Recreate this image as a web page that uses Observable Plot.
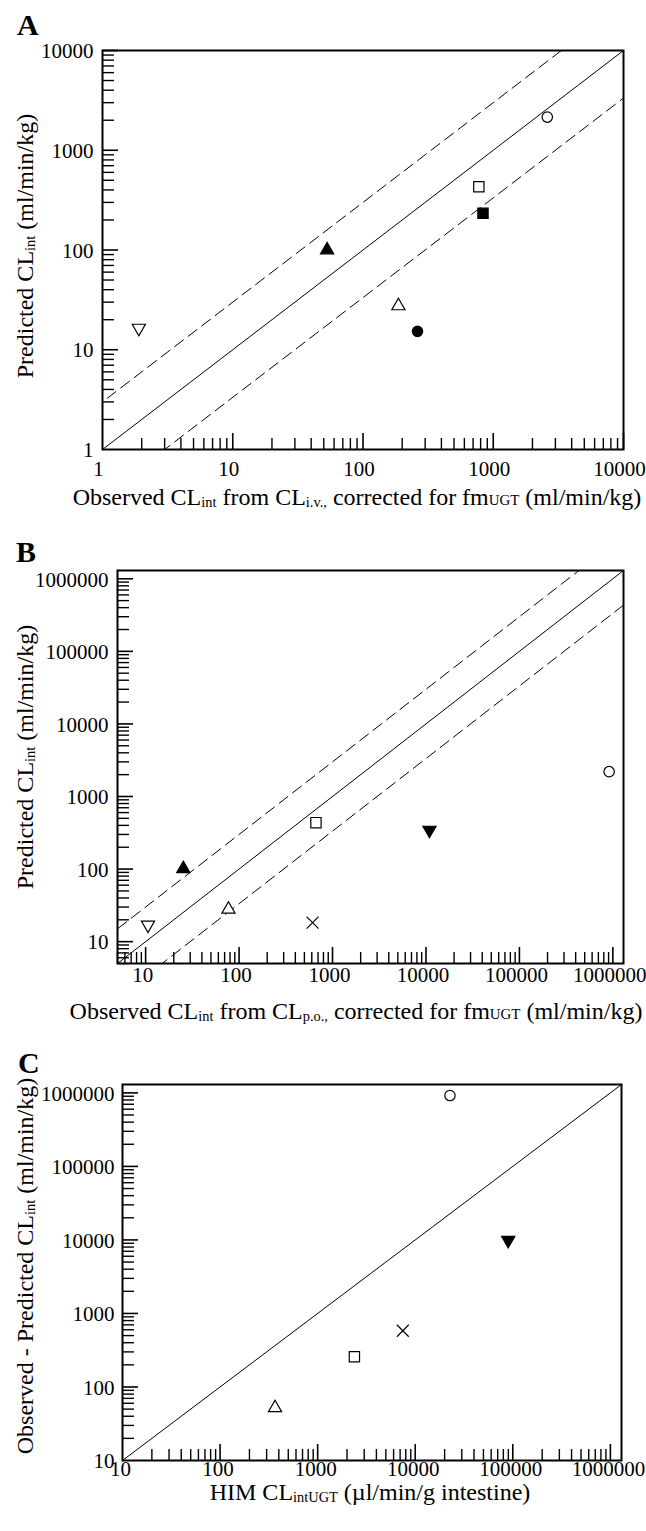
<!DOCTYPE html>
<html><head><meta charset="utf-8">
<script src="https://cdn.jsdelivr.net/npm/d3@7"></script>
<script src="https://cdn.jsdelivr.net/npm/@observablehq/plot@0.6"></script>
<style>
body{margin:0;background:#fff;}
#wrap{position:relative;width:646px;height:1531px;font-family:"Liberation Serif","Times New Roman",serif;color:#000;overflow:hidden;}
.plot{position:absolute;left:0;}
.lbl{position:absolute;white-space:nowrap;font-size:24px;line-height:1;}
.xl{transform:translateX(-50%);}
.yl{transform:translate(-50%,-50%) rotate(-90deg);}
.panel{position:absolute;font-weight:bold;font-size:30px;line-height:1;}
.s{font-size:0.6em;vertical-align:-0.12em;}
.sc{font-size:0.62em;}
</style></head><body><div id="wrap"></div>
<script>
// ---------- data ----------
// Panel A: observed (i.v.) vs predicted CLint
const symA  = ["triangleDownOpen","triangleFilled","triangleOpen","circleFilled","squareOpen","squareFilled","circleOpen"];
const obsA  = [1.9, 53, 187, 262, 775, 834, 2600];
const predA = [16.5, 100, 27.5, 15.3, 430, 233, 2150];
// Panel B: observed (p.o.) vs predicted CLint
const symB  = ["triangleDownOpen","triangleFilled","triangleOpen","squareOpen","times","triangleDownFilled","circleOpen"];
const obsB  = [10.6, 25.3, 77, 665, 612, 10900, 912000];
const predB = [17, 101, 27.9, 436, 18.3, 345, 2200];
// Panel C: HIM CLint,UGT vs observed - predicted
const symC  = ["circleOpen","triangleDownFilled","times","squareOpen","triangleOpen"];
const himC  = [22700, 89800, 7460, 2380, 366];
const diffC = [920000, 9900, 582, 258, 52];
// reference lines (fold difference)
const foldAB = [1, 3, 1/3];
const foldC = [1];
// tick labels
const ticksA = [1, 10, 100, 1000, 10000];
const ticksB = [10, 100, 1000, 10000, 100000, 1000000];
const ticksC = [10, 100, 1000, 10000, 100000, 1000000];
const domainA = [1, 10000];
const domainB = [5, 1300000];
const domainC = [10, 1300000];

// ---------- styles ----------
const symStyle = {
  circleOpen:        {symbol: "circle",   fill: "white", r: 5.2},
  circleFilled:      {symbol: "circle",   fill: "black", r: 5.2},
  squareOpen:        {symbol: "square",   fill: "white", r: 5.8},
  squareFilled:      {symbol: "square",   fill: "black", r: 5.8},
  triangleOpen:      {symbol: "triangle", fill: "white", r: 4.9, rotate: 0},
  triangleFilled:    {symbol: "triangle", fill: "black", r: 4.9, rotate: 0},
  triangleDownOpen:  {symbol: "triangle", fill: "white", r: 4.9, rotate: 180},
  triangleDownFilled:{symbol: "triangle", fill: "black", r: 4.9, rotate: 180},
  times:             {symbol: "times",    fill: "none",  r: 5.5}
};

function minorTicks(domain, majors) {
  const out = [];
  const e0 = Math.floor(Math.log10(domain[0])), e1 = Math.ceil(Math.log10(domain[1]));
  for (let e = e0; e <= e1; e++) for (let m = 2; m <= 9; m++) {
    const v = m * Math.pow(10, e);
    if (v >= domain[0] && v <= domain[1] && !majors.includes(v)) out.push(v);
  }
  return out;
}

function panel(cfg) {
  const {xs, ys, syms, folds, xDomain, yDomain, xTicks, yTicks, H, ml, mr, mt, mb, xPad, yPad, xdx} = cfg;
  const W = 646;
  const innerW = W - ml - mr, innerH = H - mt - mb;
  const pts = xs.map((x, i) => ({x, y: ys[i], s: syms[i]}));
  const lineRows = [];
  folds.forEach(f => {
    lineRows.push({x: xDomain[0] / 10, y: xDomain[0] / 10 * f, f});
    lineRows.push({x: xDomain[1] * 10, y: xDomain[1] * 10 * f, f});
  });
  const marks = [
    Plot.line(lineRows.filter(d => d.f === 1), {x: "x", y: "y", stroke: "black", strokeWidth: 1, clip: true}),
    Plot.line(lineRows.filter(d => d.f !== 1), {x: "x", y: "y", z: "f", stroke: "black", strokeWidth: 1, strokeDasharray: "11,6", clip: true}),
    Plot.tickX(minorTicks(xDomain, xTicks), {x: d => d, insetTop: innerH - 11, strokeWidth: 1.4}),
    Plot.tickX(xTicks.filter(v => v > xDomain[0]), {x: d => d, insetTop: innerH - 16, strokeWidth: 1.6}),
    Plot.tickY(minorTicks(yDomain, yTicks), {y: d => d, insetRight: innerW - 12, strokeWidth: 1.4}),
    Plot.tickY(yTicks.filter(v => v > yDomain[0]), {y: d => d, insetRight: innerW - 16, strokeWidth: 1.6}),
    Plot.frame({stroke: "black", strokeWidth: 2}),
    Plot.axisX({ticks: xTicks, tickFormat: d => String(d), tickSize: 0, tickPadding: xPad, dx: xdx, fontSize: 21}),
    Plot.axisY({ticks: yTicks, tickFormat: d => String(d), tickSize: 0, tickPadding: yPad, dy: 1, fontSize: 21})
  ];
  Object.keys(symStyle).forEach(k => {
    const rows = pts.filter(p => p.s === k);
    if (!rows.length) return;
    const st = symStyle[k];
    marks.push(Plot.dot(rows, {x: "x", y: "y", symbol: st.symbol, fill: st.fill, stroke: "black",
      strokeWidth: 1.2, r: st.r, rotate: st.rotate || 0}));
  });
  return Plot.plot({
    width: W, height: H, marginLeft: ml, marginRight: mr, marginTop: mt, marginBottom: mb,
    x: {type: "log", domain: xDomain, label: null},
    y: {type: "log", domain: yDomain, label: null},
    style: {fontFamily: "'Liberation Serif', 'Times New Roman', serif", fontSize: "21px", color: "black", background: "transparent", overflow: "visible"},
    marks
  });
}

const wrap = document.getElementById("wrap");
function place(node, top) { node.classList.add("plot"); node.style.top = top + "px"; wrap.appendChild(node); }

place(panel({xs: obsA, ys: predA, syms: symA, folds: foldAB, xDomain: domainA, yDomain: domainA,
  xTicks: ticksA, yTicks: ticksA, H: 485, ml: 102, mr: 23, mt: 50, mb: 36, xPad: 12, yPad: 9, xdx: -4}), 0);
place(panel({xs: obsB, ys: predB, syms: symB, folds: foldAB, xDomain: domainB, yDomain: domainB,
  xTicks: ticksB, yTicks: ticksB, H: 470, ml: 117, mr: 23, mt: 50, mb: 27, xPad: 4, yPad: 9, xdx: -3}), 520);
place(panel({xs: himC, ys: diffC, syms: symC, folds: foldC, xDomain: domainC, yDomain: domainC,
  xTicks: ticksC, yTicks: ticksC, H: 445, ml: 122, mr: 25, mt: 44, mb: 25, xPad: 1, yPad: 8, xdx: -2}), 1040);

function label(html, cls, left, top) {
  const d = document.createElement("div");
  d.className = cls; d.innerHTML = html;
  d.style.left = left + "px"; d.style.top = top + "px";
  wrap.appendChild(d);
}
label("A", "panel", 17, 10);
label("B", "panel", 16, 537);
label("C", "panel", 18, 1048);
label('Predicted CL<span class="s">int</span> (ml/min/kg)', "lbl yl", 25, 246);
label('Observed CL<span class="s">int</span> from CL<span class="s">i.v.,</span> corrected for fm<span class="sc">UGT</span> (ml/min/kg)', "lbl xl", 357, 485);
label('Predicted CL<span class="s">int</span> (ml/min/kg)', "lbl yl", 25, 757);
label('Observed CL<span class="s">int</span> from CL<span class="s">p.o.,</span> corrected for fm<span class="sc">UGT</span> (ml/min/kg)', "lbl xl", 356, 999);
label('Observed - Predicted CL<span class="s">int</span> (ml/min/kg)', "lbl yl", 25, 1266);
label('HIM CL<span class="s">intUGT</span> (µl/min/g intestine)', "lbl xl", 370, 1480);
</script></body></html>
